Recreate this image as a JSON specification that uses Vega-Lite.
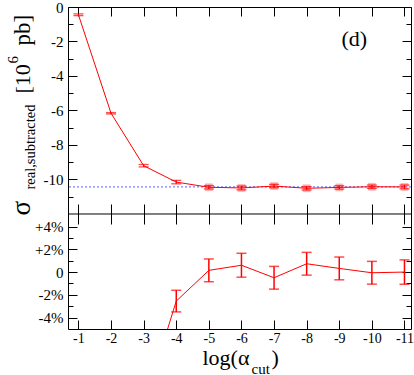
{
  "$schema": "https://vega.github.io/schema/vega-lite/v6.json",
  "padding": {"left": 5, "top": 0, "right": 0, "bottom": 0},
  "width": 343,
  "height": 322,
  "config": {
    "view": {"stroke": "black", "strokeWidth": 1},
    "font": "Liberation Serif",
    "axis": {"domain": false, "grid": false, "tickColor": "black", "tickWidth": 1, "labelColor": "black", "labelFont": "Liberation Serif", "titleFont": "Liberation Serif", "titleColor": "black", "titleFontWeight": "normal", "labelOverlap": false, "labelFlush": false}
  },
  "datasets": {
    "top": [
      {"x": -1, "y": -0.45, "lo": -0.5, "hi": -0.4},
      {"x": -2, "y": -6.16, "lo": -6.2, "hi": -6.12},
      {"x": -3, "y": -9.2, "lo": -9.27, "hi": -9.13},
      {"x": -4, "y": -10.15, "lo": -10.25, "hi": -10.05},
      {"x": -5, "y": -10.45, "lo": -10.55, "hi": -10.35},
      {"x": -6, "y": -10.49, "lo": -10.6, "hi": -10.38},
      {"x": -7, "y": -10.38, "lo": -10.48, "hi": -10.28},
      {"x": -8, "y": -10.51, "lo": -10.61, "hi": -10.41},
      {"x": -9, "y": -10.46, "lo": -10.56, "hi": -10.36},
      {"x": -10, "y": -10.42, "lo": -10.52, "hi": -10.32},
      {"x": -11, "y": -10.43, "lo": -10.54, "hi": -10.32}
    ],
    "bot": [
      {"x": -1, "d": -95.7, "lo": -96.7, "hi": -94.7},
      {"x": -2, "d": -41, "lo": -42, "hi": -40},
      {"x": -3, "d": -11.8, "lo": -12.8, "hi": -10.8},
      {"x": -4, "d": -2.55, "lo": -3.5, "hi": -1.6},
      {"x": -5, "d": 0.15, "lo": -0.85, "hi": 1.15},
      {"x": -6, "d": 0.6, "lo": -0.45, "hi": 1.65},
      {"x": -7, "d": -0.5, "lo": -1.5, "hi": 0.5},
      {"x": -8, "d": 0.73, "lo": -0.27, "hi": 1.73},
      {"x": -9, "d": 0.32, "lo": -0.68, "hi": 1.32},
      {"x": -10, "d": -0.06, "lo": -1.06, "hi": 0.94},
      {"x": -11, "d": 0.0, "lo": -1.07, "hi": 1.07}
    ],
    "ref": [{"r": -10.43, "sep": -12}],
    "lab": [{"x": -9.46, "y": -1.88, "t": "(d)"}]
  },
  "resolve": {"scale": {"y": "independent"}, "axis": {"x": "independent", "y": "independent"}},
  "layer": [
    {
      "data": {"name": "ref"},
      "mark": {"type": "rule", "color": "#7f7fff", "strokeDash": [2, 2], "strokeWidth": 1.3},
      "encoding": {"y": {"field": "r", "type": "quantitative", "scale": {"domain": [-18.667, 0], "nice": false, "zero": false}, "axis": null}}
    },
    {
      "data": {"name": "ref"},
      "mark": {"type": "rule", "color": "black", "strokeWidth": 1},
      "encoding": {"y": {"field": "sep", "type": "quantitative", "scale": {"domain": [-18.667, 0], "nice": false, "zero": false}, "axis": null}}
    },
    {
      "data": {"name": "top"},
      "mark": {"type": "line", "color": "#ff0000", "strokeWidth": 1, "clip": true},
      "encoding": {
        "x": {"field": "x", "type": "quantitative", "scale": {"domain": [-11.2, -0.68], "reverse": true, "nice": false, "zero": false},
          "axis": {"orient": "top", "values": [-1, -2, -3, -4, -5, -6, -7, -8, -9, -10, -11], "labels": false, "tickSize": -9, "title": null}},
        "y": {"field": "y", "type": "quantitative", "scale": {"domain": [-18.667, 0], "nice": false, "zero": false},
          "axis": {"orient": "left", "values": [-11, -10, -9, -8, -7, -6, -5, -4, -3, -2, -1, 0], "tickSize": {"condition": {"test": "datum.value % 2 === 0", "value": -9}, "value": -5}, "labelExpr": "datum.value % 2 === 0 ? '' + datum.value : ''", "labelFontSize": 15, "labelPadding": 14, "title": null}}
      }
    },
    {
      "data": {"name": "top"},
      "transform": [{"filter": "datum.x <= -5"}],
      "mark": {"type": "point", "shape": "square", "filled": true, "color": "#ff0000", "opacity": 0.3, "size": 60},
      "encoding": {
        "x": {"field": "x", "type": "quantitative", "axis": null},
        "y": {"field": "y", "type": "quantitative", "scale": {"domain": [-18.667, 0], "nice": false, "zero": false}, "axis": null}
      }
    },
    {
      "data": {"name": "top"},
      "mark": {"type": "rule", "color": "#ff0000", "strokeWidth": 1.3},
      "encoding": {
        "x": {"field": "x", "type": "quantitative", "axis": null},
        "y": {"field": "lo", "type": "quantitative", "scale": {"domain": [-18.667, 0], "nice": false, "zero": false}, "axis": null},
        "y2": {"field": "hi"}
      }
    },
    {
      "data": {"name": "top"},
      "mark": {"type": "tick", "orient": "horizontal", "color": "#ff0000", "size": 10, "thickness": 1.3},
      "encoding": {
        "x": {"field": "x", "type": "quantitative", "axis": null},
        "y": {"field": "lo", "type": "quantitative", "scale": {"domain": [-18.667, 0], "nice": false, "zero": false}, "axis": null}
      }
    },
    {
      "data": {"name": "top"},
      "mark": {"type": "tick", "orient": "horizontal", "color": "#ff0000", "size": 10, "thickness": 1.3},
      "encoding": {
        "x": {"field": "x", "type": "quantitative", "axis": null},
        "y": {"field": "hi", "type": "quantitative", "scale": {"domain": [-18.667, 0], "nice": false, "zero": false}, "axis": null}
      }
    },
    {
      "data": {"name": "top"},
      "mark": {"type": "point", "opacity": 0},
      "encoding": {
        "x": {"field": "x", "type": "quantitative", "axis": {"orient": "bottom", "offset": -125, "values": [-1, -2, -3, -4, -5, -6, -7, -8, -9, -10, -11], "labels": false, "tickSize": 20, "title": null}},
        "y": {"field": "y", "type": "quantitative", "scale": {"domain": [-18.667, 0], "nice": false, "zero": false}, "axis": {"orient": "right", "values": [-11, -10, -9, -8, -7, -6, -5, -4, -3, -2, -1, 0], "labels": false, "tickSize": {"condition": {"test": "datum.value % 2 === 0", "value": -9}, "value": -5}, "title": null}}
      }
    },
    {
      "data": {"name": "top"},
      "mark": {"type": "point", "opacity": 0},
      "encoding": {
        "x": {"field": "x", "type": "quantitative", "axis": null},
        "y": {"field": "y", "type": "quantitative", "scale": {"domain": [-18.667, 0], "nice": false, "zero": false}, "axis": {"orient": "left", "labels": false, "ticks": false, "title": "σ", "titleFontSize": 27, "titleX": -39, "titleY": 208, "titleAlign": "left", "titleBaseline": "alphabetic", "titleAngle": -90}}
      }
    },
    {
      "data": {"name": "top"},
      "mark": {"type": "point", "opacity": 0},
      "encoding": {
        "x": {"field": "x", "type": "quantitative", "axis": null},
        "y": {"field": "y", "type": "quantitative", "scale": {"domain": [-18.667, 0], "nice": false, "zero": false}, "axis": {"orient": "left", "labels": false, "ticks": false, "title": "real,subtracted", "titleFontSize": 14.5, "titleX": -34, "titleY": 182, "titleAlign": "left", "titleBaseline": "alphabetic", "titleAngle": -90}}
      }
    },
    {
      "data": {"name": "top"},
      "mark": {"type": "point", "opacity": 0},
      "encoding": {
        "x": {"field": "x", "type": "quantitative", "axis": null},
        "y": {"field": "y", "type": "quantitative", "scale": {"domain": [-18.667, 0], "nice": false, "zero": false}, "axis": {"orient": "left", "labels": false, "ticks": false, "title": "[10", "titleFontSize": 22, "titleX": -39, "titleY": 86, "titleAlign": "left", "titleBaseline": "alphabetic", "titleAngle": -90}}
      }
    },
    {
      "data": {"name": "top"},
      "mark": {"type": "point", "opacity": 0},
      "encoding": {
        "x": {"field": "x", "type": "quantitative", "axis": null},
        "y": {"field": "y", "type": "quantitative", "scale": {"domain": [-18.667, 0], "nice": false, "zero": false}, "axis": {"orient": "left", "labels": false, "ticks": false, "title": "6", "titleFontSize": 15, "titleX": -51, "titleY": 56, "titleAlign": "left", "titleBaseline": "alphabetic", "titleAngle": -90}}
      }
    },
    {
      "data": {"name": "top"},
      "mark": {"type": "point", "opacity": 0},
      "encoding": {
        "x": {"field": "x", "type": "quantitative", "axis": null},
        "y": {"field": "y", "type": "quantitative", "scale": {"domain": [-18.667, 0], "nice": false, "zero": false}, "axis": {"orient": "left", "labels": false, "ticks": false, "title": "pb]", "titleFontSize": 23, "titleX": -39, "titleY": 38, "titleAlign": "left", "titleBaseline": "alphabetic", "titleAngle": -90}}
      }
    },
    {
      "data": {"name": "lab"},
      "mark": {"type": "text", "fontSize": 22, "font": "Liberation Serif", "color": "black"},
      "encoding": {
        "x": {"field": "x", "type": "quantitative", "axis": null},
        "y": {"field": "y", "type": "quantitative", "scale": {"domain": [-18.667, 0], "nice": false, "zero": false}, "axis": null},
        "text": {"field": "t"}
      }
    },
    {
      "data": {"name": "bot"},
      "mark": {"type": "line", "color": "#ff0000", "strokeWidth": 1, "clip": true},
      "encoding": {
        "x": {"field": "x", "type": "quantitative",
          "axis": {"orient": "bottom", "values": [-1, -2, -3, -4, -5, -6, -7, -8, -9, -10, -11], "labelExpr": "'' + datum.value", "labelFontSize": 14, "tickSize": -9, "labelPadding": 11, "title": "log(α", "titleFontSize": 22, "titleX": 134, "titleY": 35, "titleAlign": "left", "titleBaseline": "alphabetic"}},
        "y": {"field": "d", "type": "quantitative", "scale": {"domain": [-5, 23.28], "nice": false, "zero": false},
          "axis": {"orient": "left", "values": [-4, -3, -2, -1, 0, 1, 2, 3, 4], "tickSize": {"condition": {"test": "datum.value % 2 === 0", "value": -9}, "value": -5}, "labelExpr": "datum.value % 2 !== 0 ? '' : datum.value > 0 ? '+' + datum.value + '%' : datum.value < 0 ? datum.value + '%' : '0'", "labelFontSize": 15, "labelPadding": 14, "title": null}}
      }
    },
    {
      "data": {"name": "bot"},
      "mark": {"type": "rule", "color": "#ff0000", "strokeWidth": 1.5, "clip": true},
      "encoding": {
        "x": {"field": "x", "type": "quantitative", "axis": null},
        "y": {"field": "lo", "type": "quantitative", "scale": {"domain": [-5, 23.28], "nice": false, "zero": false}, "axis": null},
        "y2": {"field": "hi"}
      }
    },
    {
      "data": {"name": "bot"},
      "mark": {"type": "tick", "orient": "horizontal", "color": "#ff0000", "size": 10, "thickness": 1.5, "clip": true},
      "encoding": {
        "x": {"field": "x", "type": "quantitative", "axis": null},
        "y": {"field": "lo", "type": "quantitative", "scale": {"domain": [-5, 23.28], "nice": false, "zero": false}, "axis": null}
      }
    },
    {
      "data": {"name": "bot"},
      "mark": {"type": "tick", "orient": "horizontal", "color": "#ff0000", "size": 10, "thickness": 1.5, "clip": true},
      "encoding": {
        "x": {"field": "x", "type": "quantitative", "axis": null},
        "y": {"field": "hi", "type": "quantitative", "scale": {"domain": [-5, 23.28], "nice": false, "zero": false}, "axis": null}
      }
    },
    {
      "data": {"name": "bot"},
      "mark": {"type": "point", "opacity": 0},
      "encoding": {
        "x": {"field": "x", "type": "quantitative", "axis": {"orient": "bottom", "labels": false, "ticks": false, "title": "cut", "titleFontSize": 15, "titleX": 183, "titleY": 44, "titleAlign": "left", "titleBaseline": "alphabetic"}},
        "y": {"field": "d", "type": "quantitative", "scale": {"domain": [-5, 23.28], "nice": false, "zero": false}, "axis": {"orient": "right", "values": [-4, -3, -2, -1, 0, 1, 2, 3, 4], "labels": false, "tickSize": {"condition": {"test": "datum.value % 2 === 0", "value": -9}, "value": -5}, "title": null}}
      }
    },
    {
      "data": {"name": "bot"},
      "mark": {"type": "point", "opacity": 0},
      "encoding": {
        "x": {"field": "x", "type": "quantitative", "axis": {"orient": "bottom", "labels": false, "ticks": false, "title": ")", "titleFontSize": 22, "titleX": 203, "titleY": 35, "titleAlign": "left", "titleBaseline": "alphabetic"}},
        "y": {"field": "d", "type": "quantitative", "scale": {"domain": [-5, 23.28], "nice": false, "zero": false}, "axis": null}
      }
    }
  ]
}
